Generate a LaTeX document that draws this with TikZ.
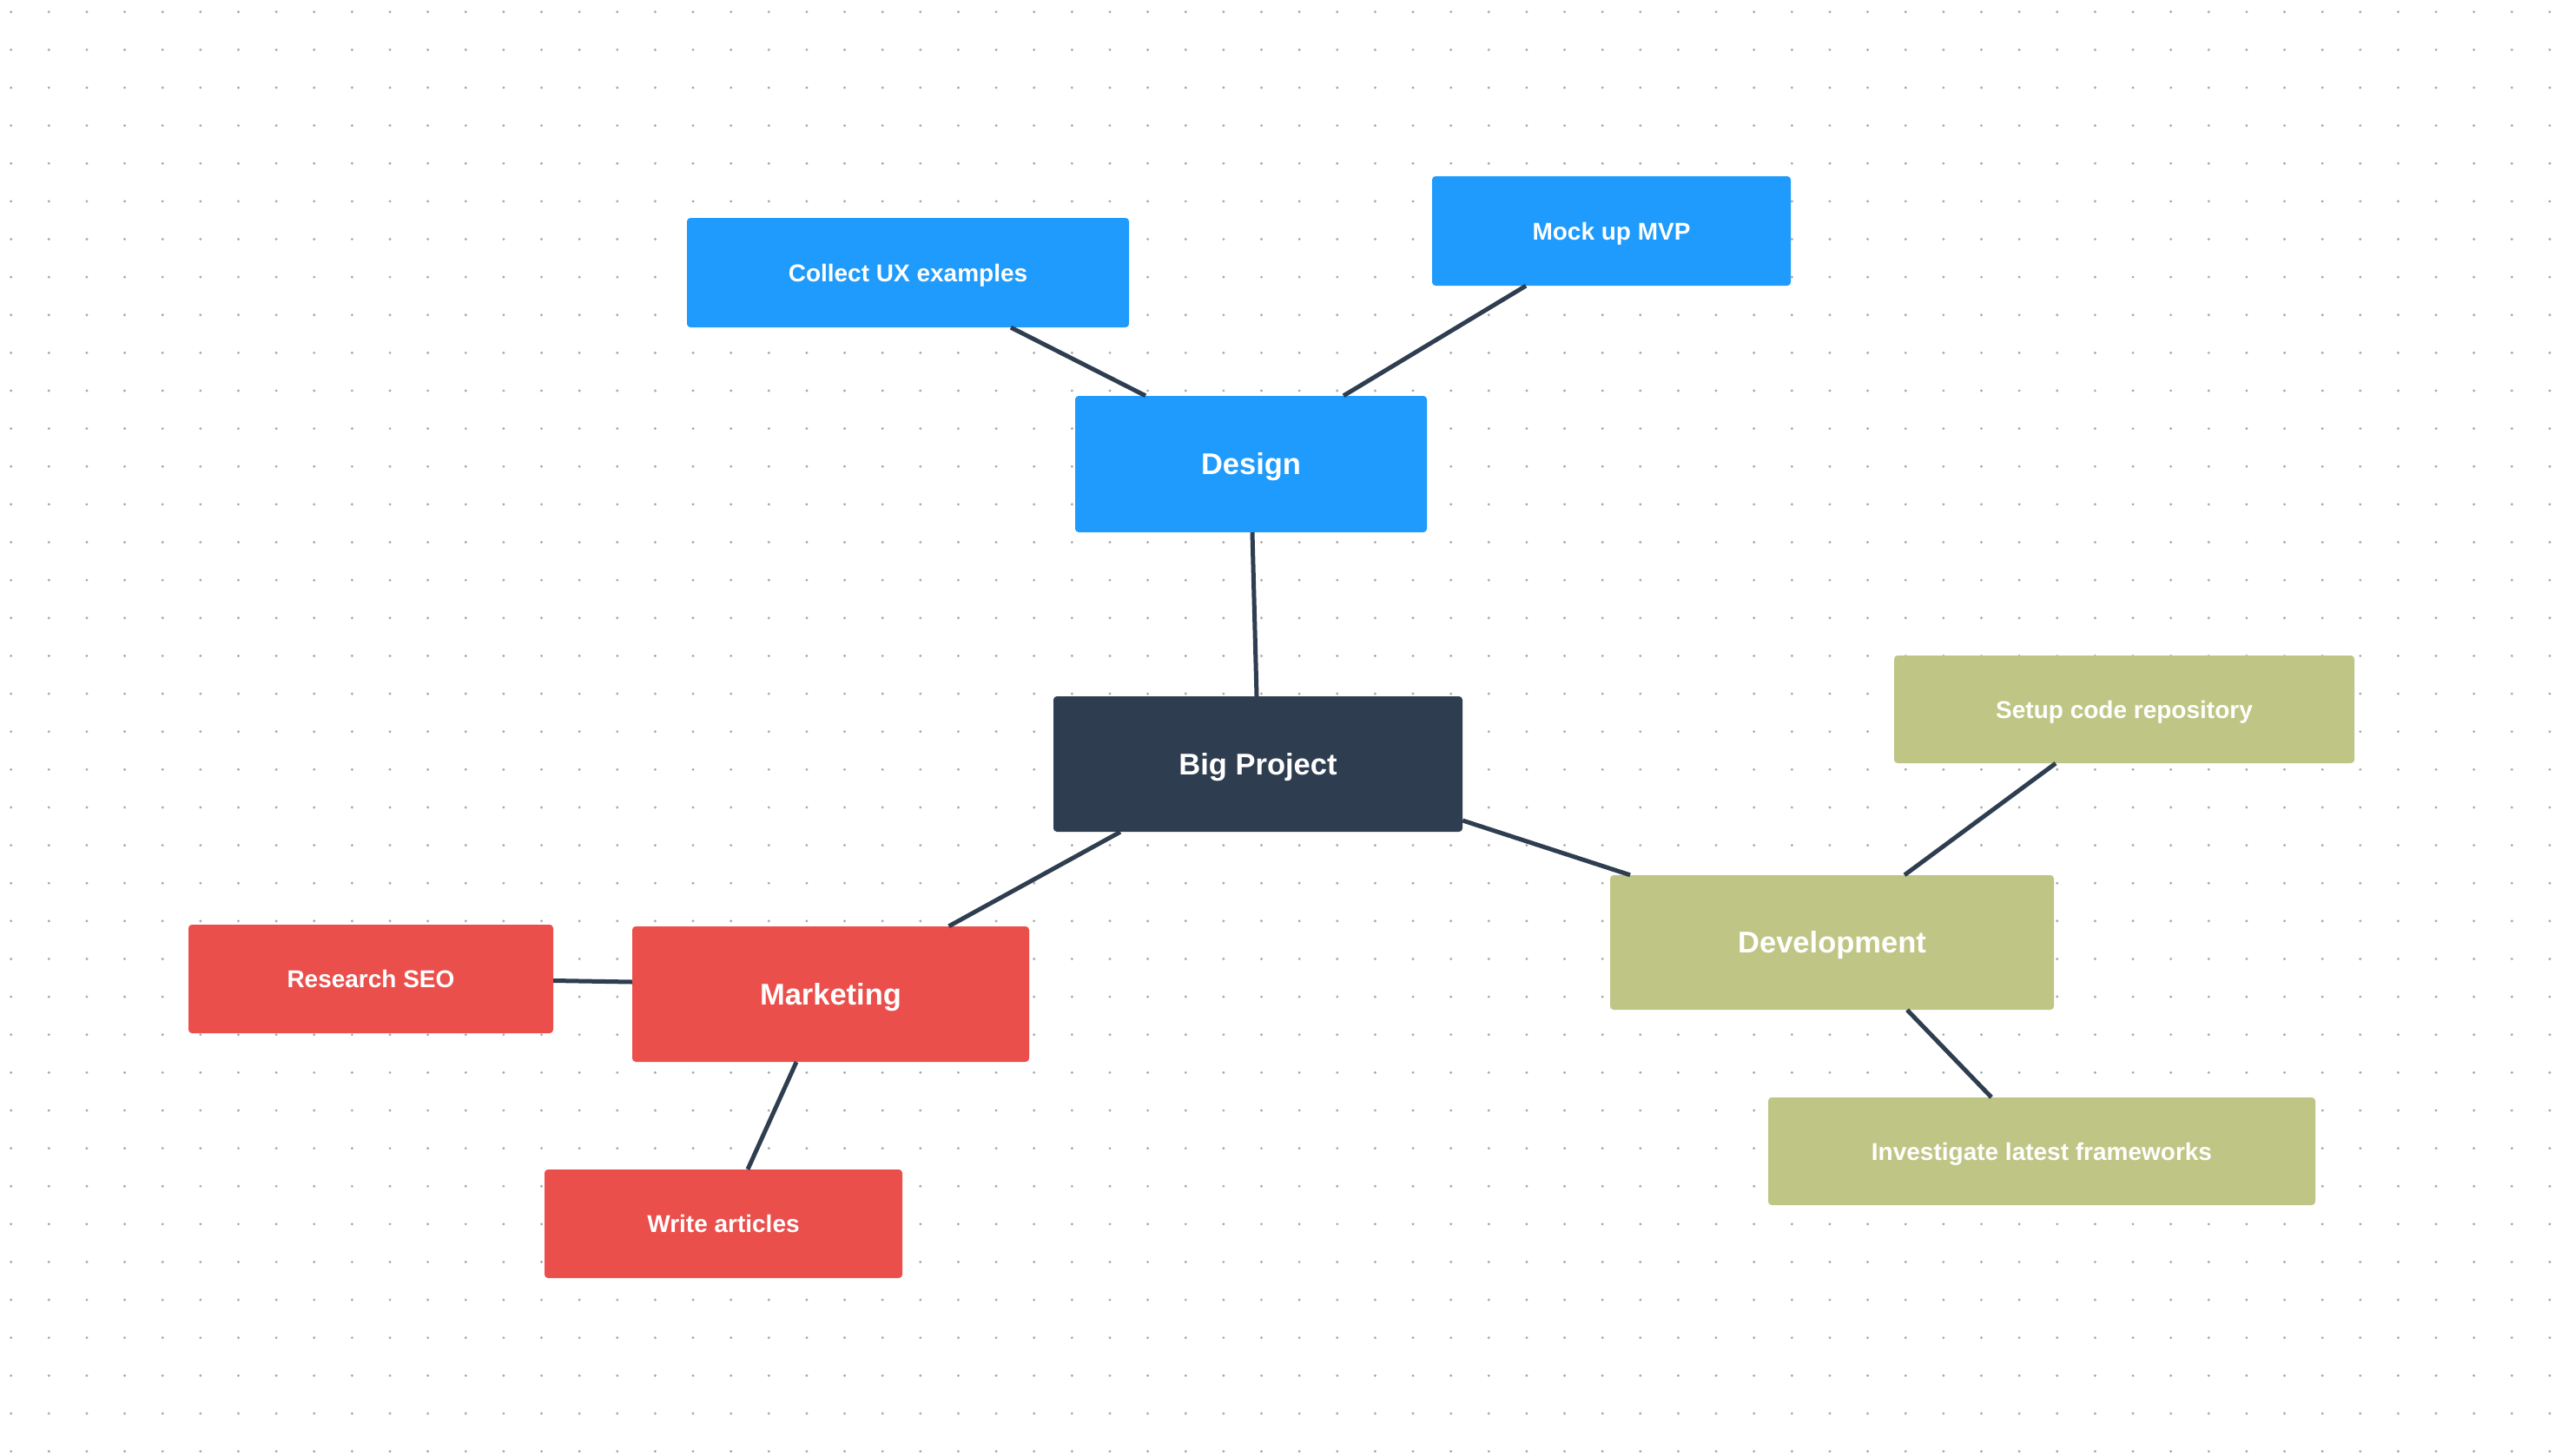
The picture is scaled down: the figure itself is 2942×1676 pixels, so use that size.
\documentclass[tikz,border=0pt]{standalone}
\usepackage{fontspec}
\setmainfont{Liberation Sans}
\usetikzlibrary{calc}
\definecolor{cblue}{HTML}{1E9BFC}
\definecolor{cdark}{HTML}{2E3E50}
\definecolor{cred}{HTML}{EA4F4C}
\definecolor{colive}{HTML}{BFC685}
\definecolor{cdot}{HTML}{A8A8A8}
\tikzset{
  box/.style={rectangle, rounded corners=4pt, inner sep=0pt, text=white, font=\fontsize{28}{32}\selectfont\bfseries, align=center, text height=20pt, text depth=0pt},
  mainbox/.style={box, font=\fontsize{34.5}{40}\selectfont\bfseries, text height=24.5pt, text depth=0pt},
  link/.style={draw=cdark, line width=5pt},
}
\begin{document}
\begin{tikzpicture}[x=1pt, y=-1pt]
\useasboundingbox (0,0) rectangle (2942,1676);
\fill[white] (0,0) rectangle (2942,1676);
\foreach \i in {0,...,67}{
  \foreach \j in {0,...,38}{
    \fill[cdot] (12.7+43.63*\i, 13.7+43.63*\j) circle[radius=1.6pt];
  }
}
% nodes
\node[box, fill=cblue, minimum width=509pt, minimum height=126pt] (collect) at (1045.5,314) {Collect UX examples};
\node[box, fill=cblue, minimum width=413pt, minimum height=126pt] (mock) at (1855.5,266) {Mock up MVP};
\node[mainbox, fill=cblue, minimum width=405pt, minimum height=157pt] (design) at (1440.5,534.5) {Design};
\node[mainbox, fill=cdark, minimum width=471pt, minimum height=156pt] (big) at (1448.5,880) {Big Project};
\node[box, fill=colive, minimum width=530pt, minimum height=124pt] (setup) at (2446,817) {Setup code repository};
\node[mainbox, fill=colive, minimum width=511pt, minimum height=155pt] (dev) at (2109.5,1085.5) {Development};
\node[box, fill=colive, minimum width=630pt, minimum height=124pt] (inv) at (2351,1326) {Investigate latest frameworks};
\node[mainbox, fill=cred, minimum width=457pt, minimum height=156pt] (mkt) at (956.5,1145) {Marketing};
\node[box, fill=cred, minimum width=412pt, minimum height=125pt] (write) at (833,1409.5) {Write articles};
\node[box, fill=cred, minimum width=420pt, minimum height=125pt] (seo) at (427,1127.5) {Research SEO};
% connectors
\draw[link] ([xshift=118.5pt]collect.south) -- ([xshift=-121.5pt]design.north);
\draw[link] ([xshift=-98.5pt]mock.south) -- ([xshift=106.5pt]design.north);
\draw[link] ([xshift=1.5pt]design.south) -- ([xshift=-1.5pt]big.north);
\draw[link] ([yshift=-65pt]big.east) -- ([xshift=-232.5pt]dev.north);
\draw[link] ([xshift=-158.5pt]big.south) -- ([xshift=136pt]mkt.north);
\draw[link] ([xshift=-39.5pt]mkt.south) -- ([xshift=28pt]write.north);
\draw[link] ([yshift=-2pt]seo.east) -- ([yshift=14pt]mkt.west);
\draw[link] ([xshift=83.5pt]dev.north) -- ([xshift=-79pt]setup.south);
\draw[link] ([xshift=86.5pt]dev.south) -- ([xshift=-58pt]inv.north);
\end{tikzpicture}
\end{document}
